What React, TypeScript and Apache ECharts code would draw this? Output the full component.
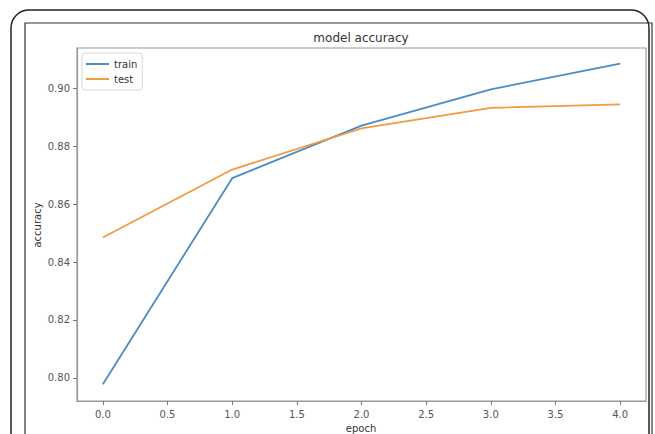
import React, { useEffect, useRef } from "react";
import * as echarts from "echarts";

const epochs = [0, 1, 2, 3, 4];
const trainAcc = [0.7978, 0.869, 0.8872, 0.8997, 0.9086];
const testAcc = [0.8485, 0.872, 0.8862, 0.8933, 0.8945];
const xTicks = [0, 0.5, 1, 1.5, 2, 2.5, 3, 3.5, 4];
const yTicks = [0.8, 0.82, 0.84, 0.86, 0.88, 0.9];

const FONT = "DejaVu Sans";

export default function App() {
  const ref = useRef<HTMLDivElement>(null);
  useEffect(() => {
    if (!ref.current) return;
    const chart = echarts.init(ref.current, null, { renderer: "svg" });
    const pairs = (ys: number[]) => epochs.map((e, i) => [e, ys[i]]);
    chart.setOption({
      animation: false,
      backgroundColor: "#ffffff",
      graphic: [
        {
          type: "rect",
          shape: { x: 11, y: 10, width: 638, height: 460, r: 18 },
          style: { fill: "none", stroke: "#222", lineWidth: 1.5 },
          z: 100,
        },
        {
          type: "rect",
          shape: { x: 25, y: 23, width: 627, height: 440 },
          style: { fill: "none", stroke: "#333", lineWidth: 1.2 },
          z: 100,
        },
        {
          type: "text",
          x: 361,
          y: 38,
          style: {
            text: "model accuracy",
            font: `12px "${FONT}"`,
            fill: "#333",
            align: "center",
            verticalAlign: "middle",
          },
        },
        {
          type: "text",
          x: 361,
          y: 428,
          style: {
            text: "epoch",
            font: `10px "${FONT}"`,
            fill: "#333",
            align: "center",
            verticalAlign: "middle",
          },
        },
        {
          type: "text",
          x: 37,
          y: 225,
          rotation: Math.PI / 2,
          style: {
            text: "accuracy",
            font: `10px "${FONT}"`,
            fill: "#333",
            align: "center",
            verticalAlign: "middle",
          },
        },
      ],
      legend: {
        orient: "vertical",
        left: 82,
        top: 53,
        padding: [5, 5, 5, 4],
        itemGap: 3,
        itemWidth: 23,
        itemHeight: 2,
        icon: "rect",
        backgroundColor: "#fff",
        borderColor: "#d8d8d8",
        borderWidth: 1,
        borderRadius: 3,
        textStyle: { fontFamily: FONT, fontSize: 10, color: "#333", lineHeight: 12 },
        data: ["train", "test"],
      },
      grid: {
        left: 77,
        right: 9,
        top: 48,
        bottom: 33,
        show: true,
        borderColor: "#999",
        borderWidth: 1.2,
        containLabel: false,
      },
      xAxis: {
        type: "value",
        min: -0.2,
        max: 4.2,
        splitLine: { show: false },
        axisLine: { show: true, onZero: false, lineStyle: { color: "#999", width: 1.2 } },
        axisTick: {
          show: true,
          length: 4,
          customValues: xTicks,
          lineStyle: { color: "#777" },
        },
        axisLabel: {
          customValues: xTicks,
          margin: 8,
          fontFamily: FONT,
          fontSize: 10,
          color: "#555",
          formatter: (v: number) => v.toFixed(1),
        },
      },
      yAxis: {
        type: "value",
        min: 0.792,
        max: 0.914,
        splitLine: { show: false },
        axisLine: { show: true, onZero: false, lineStyle: { color: "#999", width: 1.2 } },
        axisTick: {
          show: true,
          length: 4,
          customValues: yTicks,
          lineStyle: { color: "#777" },
        },
        axisLabel: {
          customValues: yTicks,
          margin: 7,
          fontFamily: FONT,
          fontSize: 10,
          color: "#555",
          formatter: (v: number) => v.toFixed(2),
        },
      },
      series: [
        {
          name: "train",
          type: "line",
          data: pairs(trainAcc),
          showSymbol: false,
          color: "#4a8cc4",
          lineStyle: { width: 1.8, color: "#4a8cc4" },
        },
        {
          name: "test",
          type: "line",
          data: pairs(testAcc),
          showSymbol: false,
          color: "#f29a3e",
          lineStyle: { width: 1.8, color: "#f29a3e" },
        },
      ],
    });
    return () => chart.dispose();
  }, []);
  return (
    <div
      ref={ref}
      style={{ position: "absolute", left: 0, top: 0, width: 655, height: 434 }}
    />
  );
}
